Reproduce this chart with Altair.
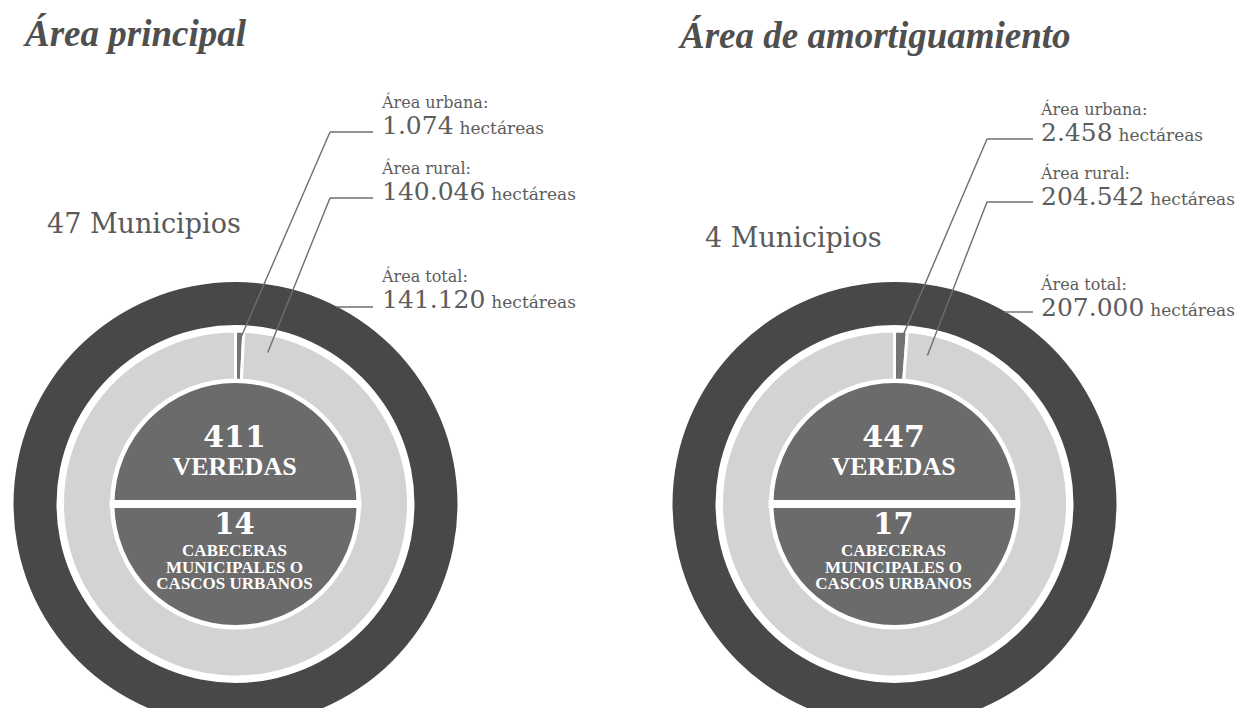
import math
import altair as alt
import pandas as pd

# ---------------- data ----------------
titulos = ["Área principal", "Área de amortiguamiento"]
municipios = [47, 4]
veredas = [411, 447]
cabeceras = [14, 17]
area_urbana = [1074, 2458]
area_rural = [140046, 204542]
area_total = [141120, 207000]

# ---------------- style ----------------
W, H = 619, 700
SERIF = "DejaVu Serif"
TFONT = "Liberation Serif"
C_DARK = "#484848"
C_LIGHT = "#d3d3d3"
C_INNER = "#6b6b6b"
C_URB = "#747474"
C_TXT = "#5c5c5c"
C_LINE = "#6e6e6e"

R_DARK = (222, 179)
R_LIGHT = (173, 124)
R_INNER = 121


def fmt(v):
    return f"{v:,}".replace(",", ".")


def txt(s, x, y, size, color=C_TXT, weight="normal", style="normal",
        font=SERIF, align="left"):
    return alt.Chart(pd.DataFrame({"t": [s]})).mark_text(
        font=font, fontSize=size, fontWeight=weight, fontStyle=style,
        color=color, align=align, baseline="alphabetic"
    ).encode(text="t:N", x=alt.value(x), y=alt.value(y))


def rule(x, y, x2, y2, color=C_LINE, width=1.4):
    return alt.Chart(pd.DataFrame({"a": [0]})).mark_rule(
        color=color, strokeWidth=width
    ).encode(x=alt.value(x), y=alt.value(y), x2=alt.value(x2), y2=alt.value(y2))


def num_width(s, size):
    return sum((0.318 if c == "." else 0.636) for c in s) * size


def panel(i, cx, cy, title_xy, mun_xy, text_x, line_end, diag_x,
          big_base, line_y, rural_angle, rural_r):
    total_df = pd.DataFrame({"total": [area_total[i]]})
    ring_df = pd.DataFrame({
        "cat": ["Área urbana", "Área rural"],
        "hectareas": [area_urbana[i], area_rural[i]],
    })

    dark = alt.Chart(total_df).mark_arc(
        radius=R_DARK[0], radius2=R_DARK[1], color=C_DARK, clip=True
    ).encode(theta=alt.Theta("total:Q"), x=alt.value(cx), y=alt.value(cy))

    light = alt.Chart(ring_df).mark_arc(
        radius=R_LIGHT[0], radius2=R_LIGHT[1], stroke="white", strokeWidth=3,
        clip=True
    ).encode(
        theta=alt.Theta("hectareas:Q"),
        color=alt.Color("cat:N", legend=None,
                        scale=alt.Scale(domain=["Área urbana", "Área rural"],
                                        range=[C_URB, C_LIGHT])),
        order=alt.Order("cat:N", sort="descending"),
        x=alt.value(cx), y=alt.value(cy),
    )

    inner = alt.Chart(pd.DataFrame({"a": [0]})).mark_arc(
        radius=R_INNER, theta=0, theta2=2 * math.pi, color=C_INNER
    ).encode(x=alt.value(cx), y=alt.value(cy))

    divider = rule(cx - 126, cy, cx + 126, cy, color="white", width=8)

    layers = [dark, light, inner, divider]

    # leader lines
    a_urb = 0.5 * area_urbana[i] / area_total[i] * 2 * math.pi
    ux, uy = cx + 163 * math.sin(a_urb), cy - 163 * math.cos(a_urb)
    ar = math.radians(rural_angle)
    rx, ry = cx + rural_r * math.sin(ar), cy - rural_r * math.cos(ar)
    dy = cy - line_y[2]
    tx = cx + math.sqrt(R_DARK[0] ** 2 - dy ** 2)
    layers += [
        rule(ux, uy, diag_x, line_y[0]), rule(diag_x, line_y[0], line_end, line_y[0]),
        rule(rx, ry, diag_x, line_y[1]), rule(diag_x, line_y[1], line_end, line_y[1]),
        rule(tx - 2, line_y[2], line_end, line_y[2]),
    ]

    # labels
    etiquetas = ["Área urbana:", "Área rural:", "Área total:"]
    valores = [area_urbana[i], area_rural[i], area_total[i]]
    for k in range(3):
        s = fmt(valores[k])
        layers.append(txt(etiquetas[k], text_x, big_base[k] - 26, 16))
        layers.append(txt(s, text_x, big_base[k], 25))
        layers.append(txt("hectáreas", text_x + num_width(s, 25) + 6,
                          big_base[k], 17))

    # title and municipios
    layers.append(txt(titulos[i], title_xy[0], title_xy[1], 37, color="#4f4f4f",
                      weight="bold", style="italic", font=TFONT))
    layers.append(txt(f"{municipios[i]} Municipios", mun_xy[0], mun_xy[1], 27,
                      color="#5a5a5a"))

    # inner texts
    tcx = cx - 1
    layers += [
        txt(str(veredas[i]), tcx, 439, 30, color="white", weight="bold", align="center"),
        txt("VEREDAS", tcx, 467, 26, color="white", weight="bold", align="center", font=TFONT),
        txt(str(cabeceras[i]), tcx, 526, 29, color="white", weight="bold", align="center"),
        txt("CABECERAS", tcx, 548, 17, color="white", weight="bold", align="center", font=TFONT),
        txt("MUNICIPALES O", tcx, 564.5, 17, color="white", weight="bold", align="center", font=TFONT),
        txt("CASCOS URBANOS", tcx, 581, 17, color="white", weight="bold", align="center", font=TFONT),
    ]

    return alt.layer(*layers).properties(width=W, height=H)


left = panel(0, cx=227.5, cy=496, title_xy=(17, 38), mun_xy=(39, 225),
             text_x=374, line_end=365, diag_x=322,
             big_base=[126, 192, 300], line_y=[124, 190, 299],
             rural_angle=12, rural_r=155)
right = panel(1, cx=267.5, cy=496, title_xy=(53, 40), mun_xy=(78, 239),
              text_x=414, line_end=406, diag_x=360,
              big_base=[133, 197, 308], line_y=[131, 194, 304],
              rural_angle=12.5, rural_r=152)

chart = alt.hconcat(left, right, spacing=0).properties(padding=0).configure_view(
    stroke=None
)

chart.save("out.html", embed_options={"renderer": "svg", "actions": False})
